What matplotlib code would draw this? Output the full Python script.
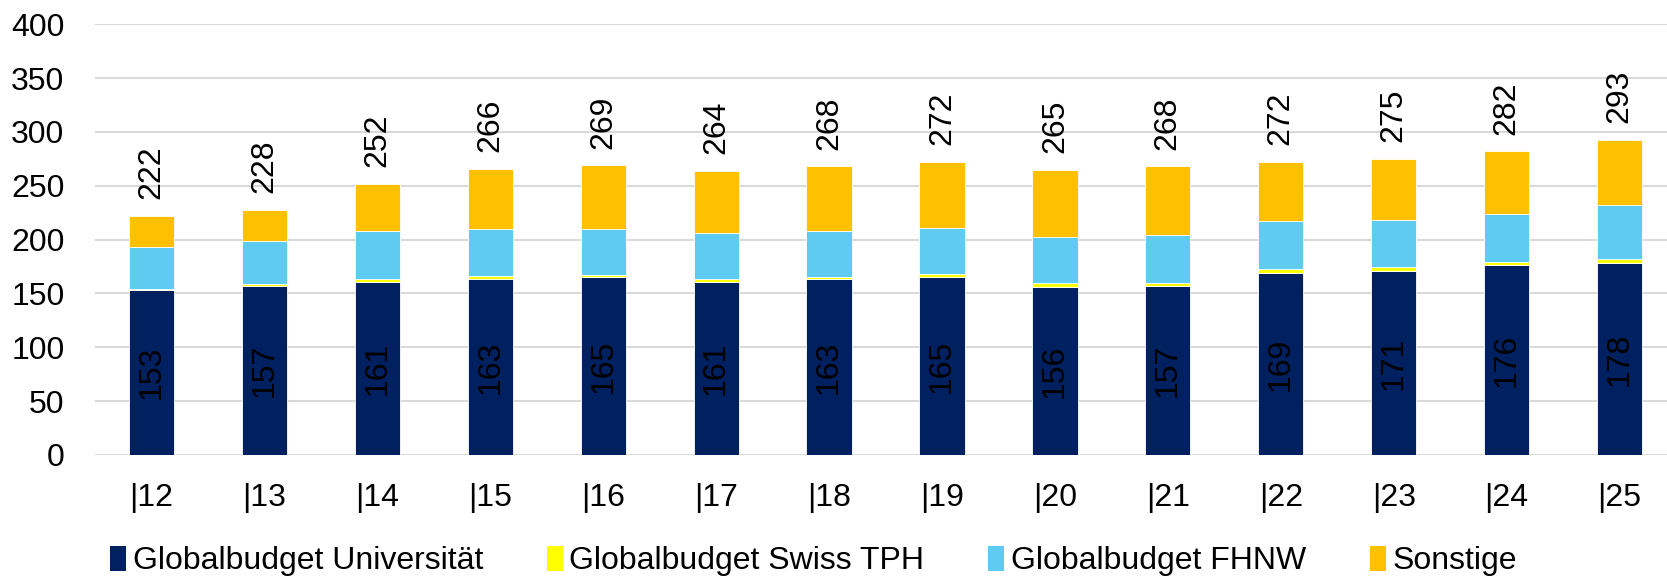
import numpy as np
import matplotlib.pyplot as plt
from matplotlib.patches import Patch

plt.rcParams['font.family'] = ['Liberation Sans', 'DejaVu Sans']

# data
years = ['|12', '|13', '|14', '|15', '|16', '|17', '|18', '|19', '|20', '|21', '|22', '|23', '|24', '|25']
uni = [153, 157, 161, 163, 165, 161, 163, 165, 156, 157, 169, 171, 176, 178]
tph = [1, 2, 2, 3, 2, 2, 2, 3, 3.5, 3, 3.5, 3.5, 3.5, 4]
fhnw = [39, 40, 45, 44, 43, 43, 43, 43, 43, 44, 45, 44, 44, 50]
sonst = [29, 29, 44, 56, 59, 58, 60, 61, 62.5, 64, 54.5, 56.5, 58.5, 61]

series = [
    ('Globalbudget Universität', uni, '#002060'),
    ('Globalbudget Swiss TPH', tph, '#FFFF00'),
    ('Globalbudget FHNW', fhnw, '#5FCBF1'),
    ('Sonstige', sonst, '#FFC000'),
]

fs = 23
fig = plt.figure(figsize=(16.67, 5.79), dpi=100)
ax = fig.add_axes([95 / 1667, 1 - 455 / 579, 1572 / 1667, (455 - 24.3) / 579])

x = np.arange(len(years))
bottom = np.zeros(len(years))
for name, vals, col in series:
    vals = np.array(vals, dtype=float)
    ax.bar(x, vals, 0.4, bottom=bottom, color=col, edgecolor='white',
           linewidth=0.6, label=name, zorder=3)
    bottom += vals

totals = bottom
for i in range(len(years)):
    ax.text(x[i], uni[i] / 2, f'{uni[i]:.0f}', rotation=90, ha='center',
            va='center', fontsize=fs, color='black', zorder=4)
    ax.annotate(f'{totals[i]:.0f}', (x[i], totals[i]), xytext=(0, 12),
                textcoords='offset points', rotation=90, ha='center',
                va='bottom', fontsize=fs, color='black')

ax.set_ylim(0, 400)
ax.set_yticks(range(0, 401, 50))
ax.set_xlim(-0.5, 13.42)
ax.set_xticks(x)
ax.set_xticklabels(years)
ax.tick_params(axis='both', length=0, labelsize=fs)
ax.tick_params(axis='y', pad=22)
ax.tick_params(axis='x', pad=20)
ax.yaxis.grid(True, color='#d9d9d9', linewidth=1.5, zorder=0)
ax.set_axisbelow(True)
for s in ax.spines.values():
    s.set_visible(False)

handles = [Patch(facecolor=c, edgecolor='none') for _, _, c in series]
fig.legend(handles, [n for n, _, _ in series], loc='center', ncol=4,
           bbox_to_anchor=(0.488, 1 - 561 / 579), frameon=False, fontsize=fs,
           handlelength=0.5, handleheight=0.85, handletextpad=0.2,
           columnspacing=2.0)

fig.savefig('out.png', dpi=100)
